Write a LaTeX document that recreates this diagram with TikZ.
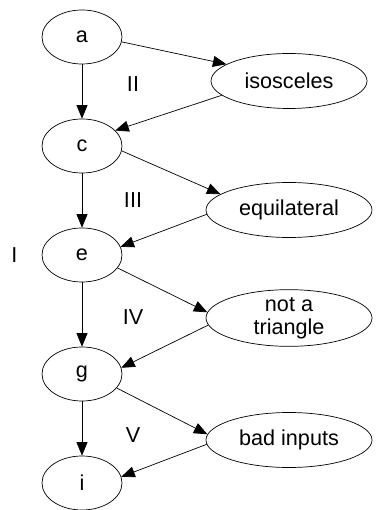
\documentclass[tikz,border=0pt]{standalone}
\usepackage{fontspec}
\setmainfont{Liberation Sans}
\usepackage{tikz}
\usetikzlibrary{positioning}
\usetikzlibrary{shapes,calc,arrows.meta}
\tikzset{
	-{Triangle[length=0.27cm,width=0.22cm]},
	line width=0.65pt,
	state/.style ={ellipse, draw, inner sep=0pt, minimum width = 1.6cm, minimum height = 1.08cm},
	result/.style ={ellipse, draw, inner sep=0pt, minimum width = 3.32cm, minimum height = 1.1cm, align=center},
	el/.style = {anchor=center, xshift=1.02cm, inner sep=0pt},
}
\begin{document}
\begin{tikzpicture}[node distance = 2.18cm, font=\fontsize{12.3}{13.3}\selectfont]
                \useasboundingbox (-1.64,0.74) rectangle (5.86,-9.46);
                \node (a) [state] {a};
                \node (c) [state, below of = a] {c};
                \node (e) [state, below of = c] {e};
                \node (g) [state, node distance = 2.38cm, below of = e] {g};
                \node (i) [state, below of = g] {i};
                \node (one) [left = 0.48cm of e, inner sep=0pt] {I};
                % results on the right
                \node (iso) [result, minimum width = 3.12cm] at ($(a)+(4.14,-0.88)$) {isosceles};
                \node (equi) [result] at ($(a)+(4.14,-3.46)$) {equilateral};
                \node (nat) [result, inner ysep=-0.5pt] at ($(a)+(4.14,-5.62)$) {not a\\triangle};
                \node (bad) [result] at ($(a)+(4.14,-8.06)$) {bad inputs};
                \path (a) edge node[el, pos=0.37] {II} (c);
                \path (c) edge node[el, pos=0.5] {III} (e);
                \path (e) edge node[el, pos=0.54] {IV} (g);
                \path (g) edge node[el, pos=0.63] {V} (i);
                \path (a.-7) edge (iso.165);
                \path (iso.192) edge (c.25);
                \path (c.-7) edge (equi.167);
                \path (equi.183) edge (e.12);
                \path (e.-20) edge (nat.176);
                \path (nat.185) edge (g.9);
                \path (g.-22) edge (bad.176);
                \path (bad.183) edge (i.9);
        \end{tikzpicture}
\end{document}
